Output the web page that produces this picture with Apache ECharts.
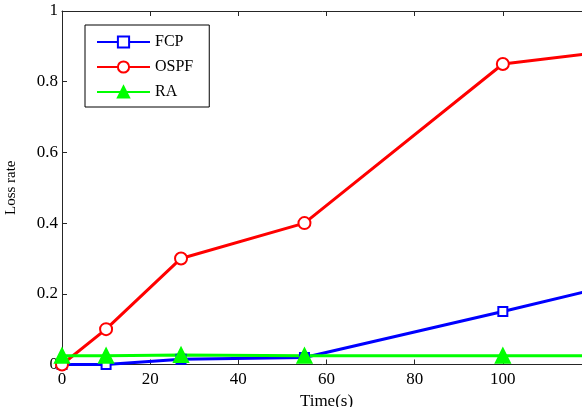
<!DOCTYPE html>
<html>
<head>
<meta charset="utf-8">
<script src="https://cdn.jsdelivr.net/npm/echarts@6/dist/echarts.min.js"></script>
<style>
  html, body { margin: 0; padding: 0; background: #fff; }
  #chartmain { width: 582px; height: 407px; }
</style>
</head>
<body>
<div id="chartmain"></div>
<script>
// data
var seriesNames = ['FCP', 'OSPF', 'RA']
var fcpData = [[0, 0], [10, 0], [27, 0.015], [55, 0.02], [100, 0.15], [120, 0.21]]
var ospfData = [[0, 0], [10, 0.1], [27, 0.3], [55, 0.4], [100, 0.85], [120, 0.88]]
var raData = [[0, 0.025], [10, 0.025], [27, 0.027], [55, 0.025], [100, 0.025], [120, 0.025]]
var xTicks = [0, 20, 40, 60, 80, 100, 120]
var yTicks = [0, 0.2, 0.4, 0.6, 0.8, 1]

var fontFamily = '"Liberation Serif", "Times New Roman", serif'
var axisColor = '#262626'

function mkSeries(name, data, color, symbol, size) {
  return {
    name: name,
    type: 'line',
    data: data,
    symbol: symbol,
    symbolSize: size,
    showAllSymbol: true,
    z: 3,
    lineStyle: { color: color, width: 3 },
    itemStyle: { color: color, borderColor: color, borderWidth: 2 },
  }
}

var option = {
  backgroundColor: '#fff',
  animation: false,
  grid: {
    left: 62,
    top: 11,
    width: 529,
    height: 353.5,
    outerBoundsMode: 'none',
    containLabel: false,
  },
  legend: {
    orient: 'vertical',
    left: 85,
    top: 25,
    padding: [9, 16, 7, 11],
    itemGap: 9,
    itemWidth: 53,
    itemHeight: 14,
    borderColor: '#000',
    borderWidth: 1,
    backgroundColor: '#fff',
    textStyle: { fontFamily: fontFamily, fontSize: 16, color: '#000' },
    data: seriesNames,
  },
  xAxis: [
    {
      type: 'value',
      min: xTicks[0],
      max: xTicks[xTicks.length - 1],
      interval: 20,
      name: 'Time(s)',
      nameLocation: 'middle',
      nameGap: 26,
      nameTextStyle: { fontFamily: fontFamily, fontSize: 17, color: '#000' },
      axisLine: { show: true, lineStyle: { color: axisColor, width: 1 } },
      axisTick: { show: true, inside: true, length: 5, lineStyle: { color: axisColor } },
      axisLabel: { fontFamily: fontFamily, fontSize: 17, color: '#000', margin: 7, showMaxLabel: false },
      splitLine: { show: false },
    },
    {
      type: 'value',
      position: 'top',
      min: xTicks[0],
      max: xTicks[xTicks.length - 1],
      interval: 20,
      axisLine: { show: true, lineStyle: { color: axisColor, width: 1 } },
      axisTick: { show: true, inside: true, length: 5, lineStyle: { color: axisColor } },
      axisLabel: { show: false },
      splitLine: { show: false },
    },
  ],
  yAxis: [
    {
      type: 'value',
      min: yTicks[0],
      max: yTicks[yTicks.length - 1],
      interval: 0.2,
      name: 'Loss rate',
      nameLocation: 'middle',
      nameGap: 43,
      nameTextStyle: { fontFamily: fontFamily, fontSize: 15, color: '#000' },
      axisLine: { show: true, lineStyle: { color: axisColor, width: 1 } },
      axisTick: { show: true, inside: true, length: 5, lineStyle: { color: axisColor } },
      axisLabel: {
        fontFamily: fontFamily,
        fontSize: 17,
        color: '#000',
        margin: 4,
        formatter: function (v) { return String(+v.toFixed(1)) },
      },
      splitLine: { show: false },
    },
  ],
  series: [
    mkSeries('FCP', fcpData, '#0000ff', 'emptyRect', 9),
    mkSeries('OSPF', ospfData, '#ff0000', 'emptyCircle', 12),
    mkSeries('RA', raData, '#00ff00', 'triangle', 14),
  ],
}

var myChart = echarts.init(document.getElementById('chartmain'))
myChart.setOption(option)
</script>
</body>
</html>
